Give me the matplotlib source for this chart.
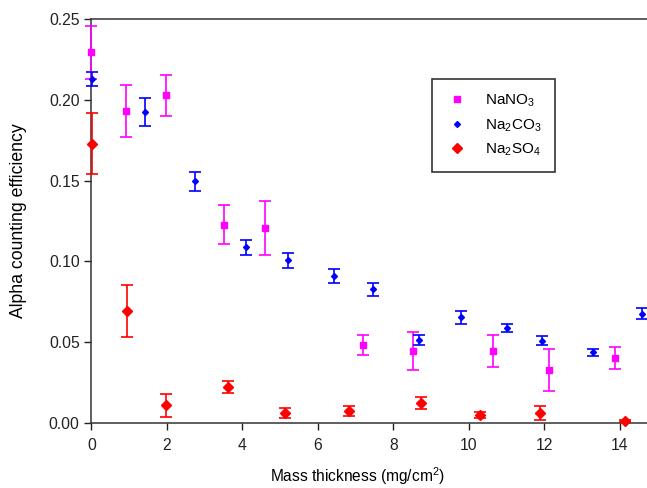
import matplotlib
matplotlib.use('Agg')
import matplotlib.pyplot as plt
from matplotlib.lines import Line2D

plt.rcParams['font.family'] = ['Liberation Sans', 'DejaVu Sans']
plt.rcParams['mathtext.fontset'] = 'custom'
plt.rcParams['mathtext.rm'] = 'Liberation Sans'

# NaNO3
nitrate_x = [0.0, 0.905, 1.965, 3.51, 4.61, 7.2, 8.51, 10.63, 12.11, 13.87]
nitrate_y = [0.2294, 0.193, 0.2028, 0.1227, 0.1207, 0.0483, 0.0446, 0.0446, 0.0328, 0.0402]
nitrate_err = [0.0163, 0.016, 0.0128, 0.0122, 0.0167, 0.0064, 0.0117, 0.0101, 0.0129, 0.0069]

# Na2CO3
carbonate_x = [0.02, 1.41, 2.75, 4.09, 5.21, 6.42, 7.47, 8.67, 9.8, 11.0, 11.93, 13.29, 14.59]
carbonate_y = [0.213, 0.1924, 0.1496, 0.1087, 0.1007, 0.091, 0.0827, 0.0514, 0.0654, 0.0588, 0.0509,
               0.0437, 0.0676]
carbonate_err = [0.0045, 0.0087, 0.0058, 0.0047, 0.0048, 0.0042, 0.0041, 0.0033, 0.0041, 0.0023, 0.0028,
                 0.002, 0.0033]

# Na2SO4
sulfate_x = [0.02, 0.93, 1.965, 3.63, 5.14, 6.82, 8.74, 10.3, 11.88, 14.15]
sulfate_y = [0.1728, 0.0693, 0.011, 0.0223, 0.0064, 0.0076, 0.0124, 0.0051, 0.0062, 0.0012]
sulfate_err = [0.0188, 0.0159, 0.007, 0.004, 0.0031, 0.0032, 0.0039, 0.0017, 0.0045, 0.0008]

series = [
    ('NaNO$_3$', nitrate_x, nitrate_y, nitrate_err, '#ff00ff', 's', 4.5),
    ('Na$_2$CO$_3$', carbonate_x, carbonate_y, carbonate_err, '#0000ff', 'D', 3.0),
    ('Na$_2$SO$_4$', sulfate_x, sulfate_y, sulfate_err, '#ff0000', 'D', 5.0),
]

fig = plt.figure(figsize=(6.47, 4.88), dpi=100)
ax = fig.add_axes([0.1414, 0.1332, 0.8586, 0.8278])

handles = []
for label, x, y, err, color, marker, ms in series:
    ax.errorbar(x, y, yerr=err, fmt=marker, color=color, ms=ms, elinewidth=1.2,
                capsize=4.2, capthick=1.2, clip_on=False, zorder=3)
    handles.append(Line2D([], [], linestyle='none', marker=marker, color=color, ms=ms))

ax.set_xlim(0, 14.72)
ax.set_ylim(0, 0.25)
ax.set_xticks(range(0, 15, 2))
ax.set_yticks([0, 0.05, 0.10, 0.15, 0.20, 0.25])
ax.yaxis.set_major_formatter(plt.FormatStrFormatter('%.2f'))
ax.tick_params(direction='out', length=5, width=1, labelsize=11.3, colors='#222222')
ax.tick_params(axis='x', pad=5.5)

for side in ['left', 'bottom', 'top']:
    ax.spines[side].set_linewidth(1.1)
    ax.spines[side].set_color('#333333')
ax.spines['right'].set_visible(False)

ax.set_xlabel('Mass thickness (mg/cm$^2$)', fontsize=11.2)
ax.xaxis.set_label_coords(0.478, -0.105)
ax.set_ylabel('Alpha counting efficiency', fontsize=12.7)
ax.yaxis.set_label_coords(-0.116, 0.5)

leg = ax.legend(handles, [s[0] for s in series], loc='upper left',
                bbox_to_anchor=(0.613, 0.852), frameon=True, fancybox=False,
                fontsize=11, handletextpad=1.05, borderpad=0.9, labelspacing=0.5,
                handlelength=1.5, borderaxespad=0)
leg.get_frame().set_edgecolor('black')
leg.get_frame().set_linewidth(1.2)

fig.savefig('out.png', dpi=100)
